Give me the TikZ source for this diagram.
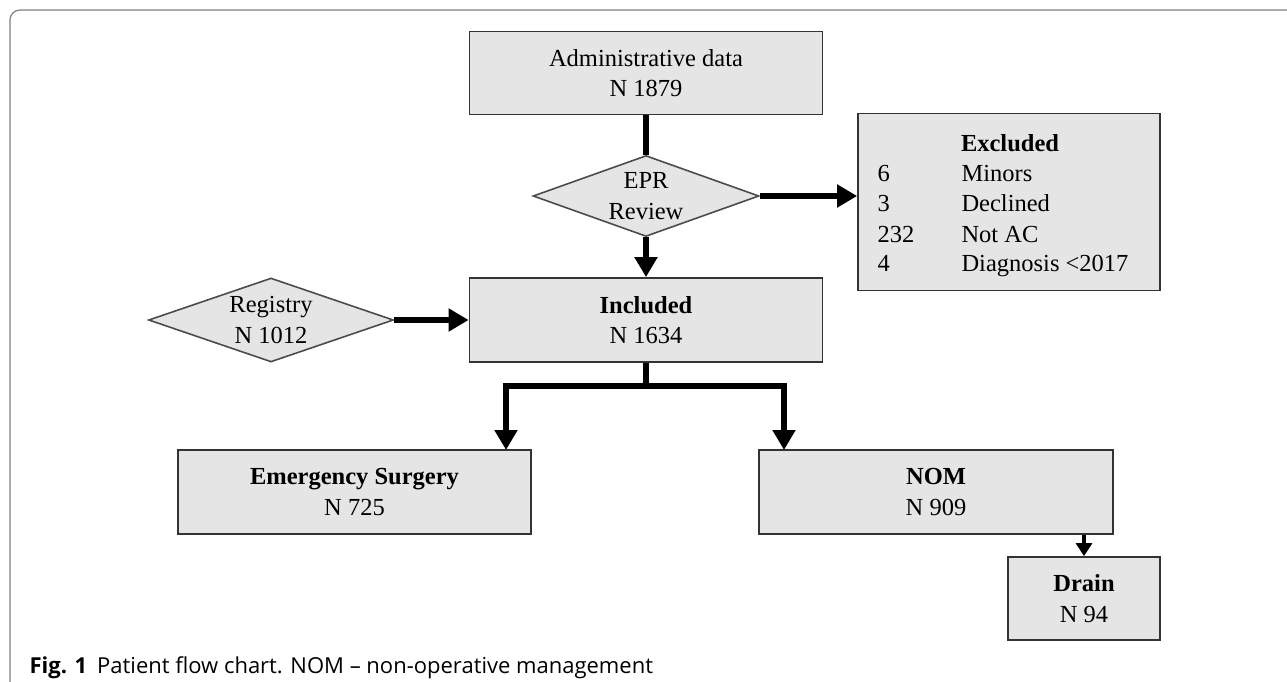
\documentclass[tikz,border=0pt]{standalone}
\usepackage{fontspec}
\setmainfont{Liberation Serif}
\newfontfamily\capfont{Open Sans}
\usetikzlibrary{arrows.meta,shapes.geometric,positioning}

\tikzset{
    box/.style={rectangle, draw=black!80, line width=1.8pt, fill=black!10, align=center, inner sep=0pt},
    decision/.style={diamond, aspect=2.8, draw=black!70, line width=1.6pt, fill=black!10, align=center, inner sep=0pt},
    link/.style={line width=5.5pt},
    flow/.style={link, -{Triangle[length=20pt,width=22pt]}},
    smallflow/.style={line width=4pt, -{Triangle[length=13pt,width=16pt]}},
    txt/.style={font=\fontsize{24.5}{30.5}\selectfont},
}

\begin{document}
\begin{tikzpicture}[x=1pt,y=-1pt,every node/.style={txt}]
    \useasboundingbox (0,0) rectangle (1287,682);
    \draw[black!50, line width=1.2pt, rounded corners=10pt] (10,700) -- (10,10) -- (1300,10);

    \node[box, minimum width=353pt, minimum height=83pt] (admin) at (646,73) {Administrative data\\N 1879};
    \node[decision, minimum width=226pt, minimum height=81pt] (epr) at (646,196) {EPR\\Review};
    \node[box, minimum width=302pt, minimum height=177pt] (excl) at (1009,202) {};
    \node[anchor=base, font=\fontsize{24.5}{30.5}\selectfont\bfseries] (exhead) at (1010,151) {Excluded};
    \node[anchor=base west] (n1) at (874,181) {6};
    \node[anchor=base west] (l1) at (958,181) {Minors};
    \node[anchor=base west] (n2) at (874,211) {3};
    \node[anchor=base west] (l2) at (958,211) {Declined};
    \node[anchor=base west] (n3) at (874,242) {232};
    \node[anchor=base west] (l3) at (958,242) {Not AC};
    \node[anchor=base west] (n4) at (874,271) {4};
    \node[anchor=base west] (l4) at (958,271) {Diagnosis <2017};
    \node[box, minimum width=353pt, minimum height=84pt] (incl) at (646,320) {\textbf{Included}\\N 1634};
    \node[decision, minimum width=245pt, minimum height=84pt] (reg) at (271,320) {Registry\\N 1012};
    \node[box, minimum width=353pt, minimum height=84pt] (surg) at (354.5,492) {\textbf{Emergency Surgery}\\N 725};
    \node[box, minimum width=354pt, minimum height=84pt] (nom) at (936,492) {\textbf{NOM}\\N 909};
    \node[box, minimum width=152pt, minimum height=83pt] (drain) at (1084,598.5) {\textbf{Drain}\\N 94};

    \coordinate (split) at (646,386);
    \coordinate (surgin) at (506,450);
    \coordinate (nomin) at (784,450);

    \draw[link] (admin.south) -- (epr.north);
    \draw[flow] (epr.east) -- (epr.east -| excl.west);
    \draw[flow] (epr.south) -- (incl.north);
    \draw[flow] (reg.east) -- (incl.west);
    \draw[link] (incl.south) -- (split);
    \draw[flow] (split) -| (surgin);
    \draw[flow] (split) -| (nomin);
    \draw[smallflow] (nom.south -| drain.north) -- (drain.north);

    \node[anchor=base west, font=\capfont\fontsize{22}{25}\selectfont] (caption) at (26,673) {\textbf{Fig. 1}\hspace{10pt}Patient flow chart. NOM – non-operative management};
\end{tikzpicture}
\end{document}
